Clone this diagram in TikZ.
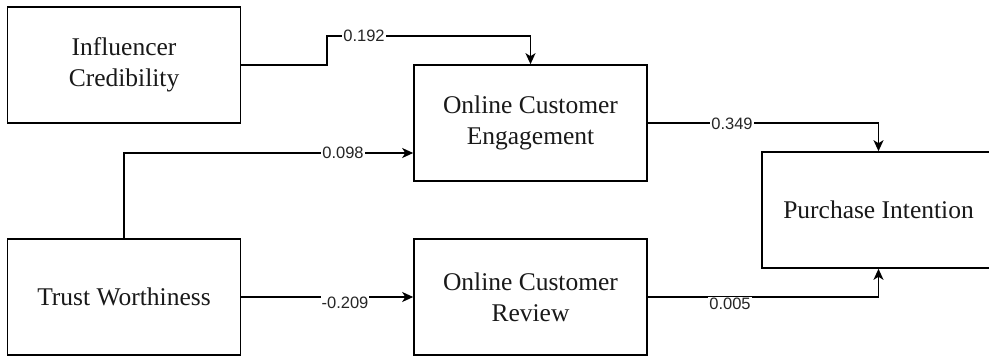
\documentclass[tikz,border=0pt]{standalone}
\usepackage{fontspec}
\setmainfont{Liberation Serif}
\newfontfamily\labelfont{Liberation Sans}
\usetikzlibrary{arrows.meta}

\tikzset{
  construct/.style={draw=black, line width=1.6pt, fill=white,
    minimum width=233pt, minimum height=116pt, align=center,
    font=\fontsize{25.5}{31}\selectfont, text=black!90},
  link/.style={draw=black, line width=1.6pt,
    -{Stealth[length=11pt,width=10pt,inset=3pt]}},
  coef/.style={fill=white, inner sep=1pt,
    font=\labelfont\fontsize{16.5}{18}\selectfont, text=black!85}
}

\begin{document}
\begin{tikzpicture}[x=1pt, y=-1pt]
  \clip (0,0) rectangle (989,356);

  % constructs of the model
  \node[construct] (ic)  at (124,65)    {Influencer\\Credibility};
  \node[construct] (oce) at (530.5,123) {Online Customer\\Engagement};
  \node[construct] (tw)  at (124,297)   {Trust Worthiness};
  \node[construct] (ocr) at (530.5,297) {Online Customer\\Review};
  \node[construct] (pi)  at (878.5,210) {Purchase Intention};

  % paths between constructs
  \draw[link] (ic.east) -- (327,65) -- (327,36) -| (oce.north);
  \draw[link] (tw.north) |- ([yshift=-30pt]oce.west);
  \draw[link] (tw.east) -- (ocr.west);
  \draw[link] (oce.east) -| (pi.north);
  \draw[link] (ocr.east) -| (pi.south);

  % path coefficients
  \node[coef] (c1) at (364,36)  {0.192};
  \node[coef] (c2) at (343,153) {0.098};
  \node[coef] (c3) at (345,303) {-0.209};
  \node[coef] (c4) at (732,124) {0.349};
  \node[coef] (c5) at (730,304) {0.005};
\end{tikzpicture}
\end{document}
